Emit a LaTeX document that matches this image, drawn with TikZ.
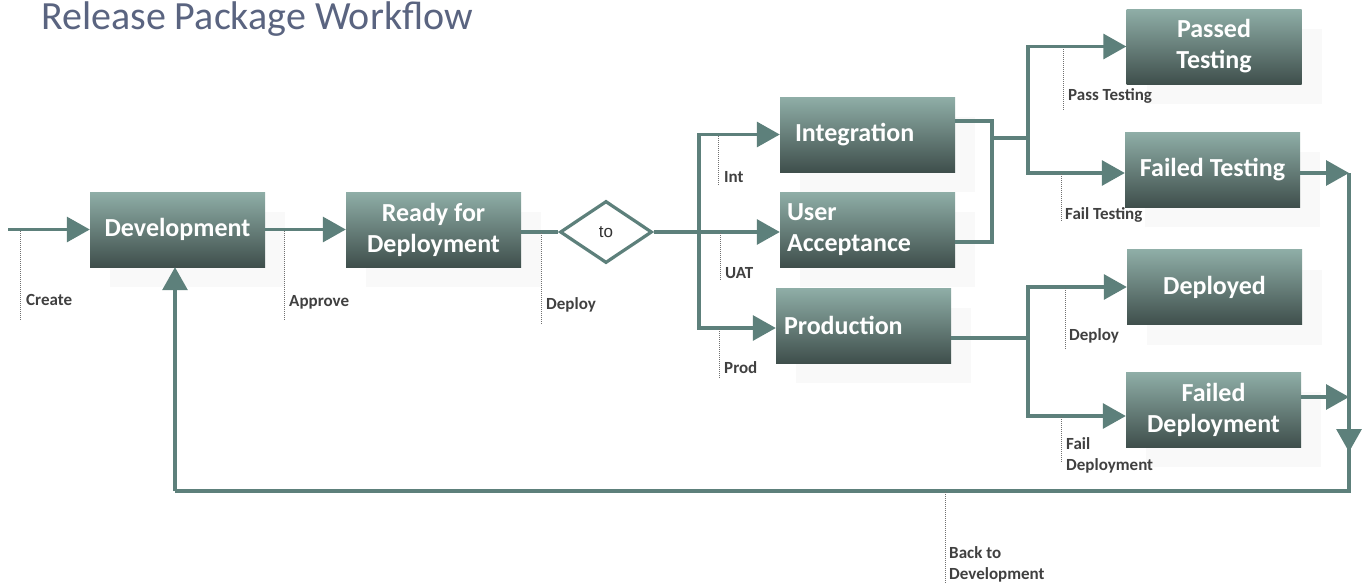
\documentclass[tikz,border=0pt]{standalone}
\usepackage{fontspec}
\setmainfont{Carlito}
\newfontfamily\arialf{Liberation Sans}
\usetikzlibrary{arrows.meta,shapes.geometric,shadows}
\definecolor{lc}{HTML}{5D807B}
\definecolor{gtop}{HTML}{8FAEA7}
\definecolor{gbot}{HTML}{3F4F4C}
\definecolor{titlec}{HTML}{5A6480}
\definecolor{lblc}{HTML}{404040}
\definecolor{dotc}{HTML}{707070}
\begin{document}
\begin{tikzpicture}[x=1pt,y=-1pt,
  box/.style={rectangle, minimum width=175pt, minimum height=75pt, inner sep=0pt,
    top color=gtop, bottom color=gbot, draw=none, text=white,
    font=\bfseries\fontsize{26}{31}\selectfont, align=center,
    drop shadow={shadow xshift=20pt, shadow yshift=-20pt, fill=black!2.5, opacity=1}},
  conn/.style={draw=lc, line width=3.2pt},
  arr/.style={conn, -{Triangle[length=23pt,width=25pt]}},
  lbl/.style={font=\bfseries\fontsize{17}{21}\selectfont, text=lblc, anchor=west, inner sep=0pt, align=left},
  dots/.style={draw=dotc, line width=1pt, densely dotted}]
\useasboundingbox (0,0) rectangle (1362,584);

% title
\node[anchor=base west, font=\fontsize{40}{48}\selectfont, text=titlec, inner sep=0pt] (title) at (41,29.5) {Release Package Workflow};

% boxes
\node[box] (dev) at (177.5,229.5) {Development};
\node[box] (rfd) at (433.5,229.5) {Ready for\\Deployment};
\node[box, text width=145pt, align=left] (int) at (867.5,134.5) {Integration};
\node[box, text width=161pt, align=left] (uat) at (867.5,229.5) {User\\Acceptance};
\node[box, text width=159pt, align=left] (prod) at (863.5,325.5) {Production};
\node[box] (pass) at (1214,46.5) {Passed\\Testing};
\node[box] (ftest) at (1212.5,169.5) {Failed Testing};
\node[box] (dep) at (1214.5,287) {Deployed};
\node[box] (fdep) at (1213.5,409.5) {Failed\\Deployment};

\node[diamond, draw=lc, line width=3.2pt, fill=white, minimum width=92pt, minimum height=62pt, inner sep=0pt,
  font=\arialf\fontsize{17}{20}\selectfont, text=black!80] (to) at (606,232) {to};

% coordinates
\coordinate (start) at (8,229.5);
\coordinate (j1) at (699,232);
\coordinate (k1) at (992,121);
\coordinate (k2) at (992,242);
\coordinate (k3) at (992,138);
\coordinate (k4) at (1028,138);
\coordinate (ft) at (1028,173);
\coordinate (p1) at (1028,338);
\coordinate (fd) at (1028,416);
\coordinate (r1) at (1349,173);
\coordinate (r2) at (1349,397);
\coordinate (rdown) at (1349,452);
\coordinate (r3) at (1349,491);
\coordinate (b1) at (175,491);

% connectors
\draw[arr] (start) -- (dev.west);
\draw[arr] (dev.east) -- (rfd.west);
\draw[conn] (rfd.east |- to.west) -- (to.west);
\draw[conn] (to.east) -- (j1);
\draw[arr] (j1) |- (int.west);
\draw[arr] (j1) -- (uat.west |- j1);
\draw[arr] (j1) |- ([yshift=-2.5pt]prod.west);

\draw[conn] (int.east |- k1) -- (k1) -- (k2) -- (uat.east |- k2);
\draw[conn] (k3) -- (k4);
\draw[arr] (k4) |- (pass.west);
\draw[arr] (k4) |- (ftest.west |- ft);

\draw[conn] (prod.east |- p1) -- (p1);
\draw[arr] (p1) |- (dep.west);
\draw[arr] (p1) |- (fdep.west |- fd);

\draw[arr] (ftest.east |- r1) -- (r1);
\draw[arr] (fdep.east |- r2) -- (r2);
\draw[conn] (r1) -- (r3) -- (b1);
\draw[arr] (r1) -- (rdown);
\draw[arr] (b1) -- (dev.south -| b1);

% labels
\node[lbl] (lcreate) at (26,300) {Create};
\node[lbl] (lapprove) at (289,302) {Approve};
\node[lbl] (ldeploy) at (546,305) {Deploy};
\node[lbl] (lint) at (724,177) {Int};
\node[lbl] (luat) at (725,273) {UAT};
\node[lbl] (lprod) at (724,368) {Prod};
\node[lbl] (lpass) at (1068,96) {Pass Testing};
\node[lbl] (lfail) at (1065,215) {Fail Testing};
\node[lbl] (ldep2) at (1069,336) {Deploy};
\node[lbl] (lfdep) at (1066,455.5) {Fail\\Deployment};
\node[lbl] (lback) at (949,564) {Back to\\Development};

% dotted leaders
\draw[dots] (20,231) -- (20,320);
\draw[dots] (284,231) -- (284,320);
\draw[dots] (541,233) -- (541,324);
\draw[dots] (718,136) -- (718,185);
\draw[dots] (720,233) -- (720,281);
\draw[dots] (719,329) -- (719,378);
\draw[dots] (1063,49) -- (1063,110);
\draw[dots] (1061,174) -- (1061,222);
\draw[dots] (1065,288) -- (1065,350);
\draw[dots] (1061,417) -- (1061,462);
\draw[dots] (945,492) -- (945,584);
\end{tikzpicture}
\end{document}
